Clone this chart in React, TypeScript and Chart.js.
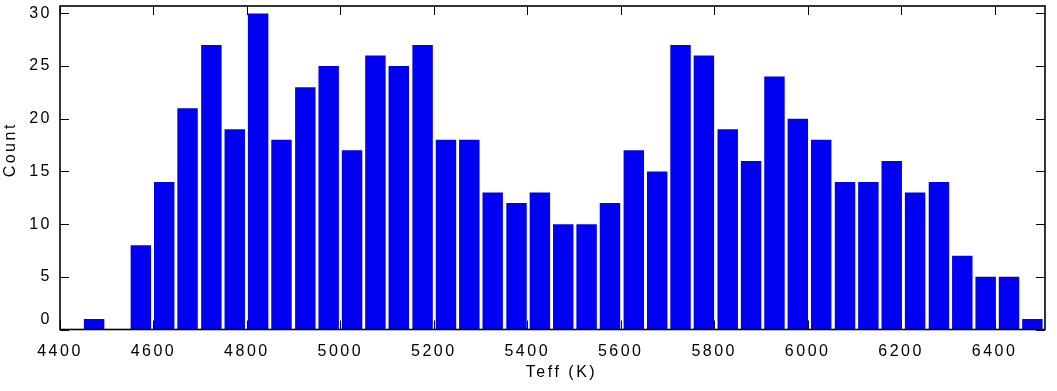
import React, { useEffect, useRef } from "react";
import { Chart, registerables } from "chart.js";

Chart.register(...registerables);

// Bin centres (Teff, K) and counts
const binCenters = [
  4473, 4523, 4573, 4623, 4673, 4724, 4774, 4824, 4874, 4925,
  4975, 5025, 5075, 5125, 5176, 5226, 5276, 5326, 5377, 5427,
  5477, 5527, 5577, 5628, 5678, 5728, 5778, 5829, 5879, 5929,
  5979, 6029, 6080, 6130, 6180, 6230, 6281, 6331, 6381, 6431,
  6481,
];
const counts = [
  1, 0, 8, 14, 21, 27, 19, 30, 18, 23,
  25, 17, 26, 25, 27, 18, 18, 13, 12, 13,
  10, 10, 12, 17, 15, 27, 26, 19, 16, 24,
  20, 18, 14, 14, 16, 13, 14, 7, 5, 5,
  1,
];
const xTickValues = [4400, 4600, 4800, 5000, 5200, 5400, 5600, 5800, 6000, 6200, 6400];
const yTickValues = [0, 5, 10, 15, 20, 25, 30];
const xMin = 4400;
const xMax = 6508;
const yMin = 0;
const yMax = 30.7;
const xTitle = "Teff (K)";
const yTitle = "Count";

const FONT = "'Liberation Sans', Arial, Helvetica, sans-serif";

const boxPlugin = {
  id: "matlabBox",
  beforeDraw(chart: any) {
    (chart.ctx as any).letterSpacing = "2.5px";
  },
  afterDatasetsDraw(chart: any) {
    const { ctx, chartArea } = chart;
    const { left, right, top, bottom } = chartArea;
    const xs = chart.scales.x;
    const ys = chart.scales.y;
    const tl = 9;
    ctx.save();
    ctx.strokeStyle = "#000";
    ctx.lineWidth = 1;
    ctx.beginPath();
    for (const v of xTickValues) {
      const px = Math.round(xs.getPixelForValue(v)) + 0.5;
      ctx.moveTo(px, bottom);
      ctx.lineTo(px, bottom - tl);
      ctx.moveTo(px, top);
      ctx.lineTo(px, top + tl);
    }
    for (const v of yTickValues) {
      const py = Math.round(ys.getPixelForValue(v)) + 0.5;
      ctx.moveTo(left, py);
      ctx.lineTo(left + tl, py);
      ctx.moveTo(right, py);
      ctx.lineTo(right - tl, py);
    }
    ctx.stroke();
    ctx.lineWidth = 1.6;
    ctx.strokeRect(left, top, right - left, bottom - top);

    // axis titles
    ctx.fillStyle = "#000";
    ctx.font = `16px ${FONT}`;
    (ctx as any).letterSpacing = "2.5px";
    ctx.textAlign = "center";
    ctx.textBaseline = "middle";
    ctx.fillText(xTitle, (left + right) / 2 + 9, 373);
    ctx.translate(11, (top + bottom) / 2 - 18);
    ctx.rotate(-Math.PI / 2);
    ctx.fillText(yTitle, 0, 0);
    ctx.restore();
  },
};

export default function App() {
  const canvasRef = useRef<HTMLCanvasElement | null>(null);

  useEffect(() => {
    if (!canvasRef.current) return;
    const chart = new Chart(canvasRef.current, {
      type: "bar",
      data: {
        datasets: [
          {
            label: yTitle,
            data: binCenters.map((x, i) => ({ x, y: counts[i] })),
            backgroundColor: "rgb(0,0,242)",
            borderWidth: 0,
            categoryPercentage: 1,
            barPercentage: 0.875,
          },
        ],
      },
      options: {
        animation: false,
        responsive: true,
        maintainAspectRatio: false,
        layout: { padding: { top: 6, right: 12, left: 0, bottom: 0 } },
        plugins: {
          legend: { display: false },
          tooltip: { enabled: false },
        },
        scales: {
          x: {
            type: "linear",
            min: xMin,
            max: xMax,
            offset: false,
            grid: { display: false, drawTicks: false },
            border: { display: false },
            afterBuildTicks: (scale: any) => {
              scale.ticks = xTickValues.map((v) => ({ value: v }));
            },
            afterFit: (scale: any) => {
              scale.height = 61.5;
              scale.paddingLeft = 0;
              scale.paddingRight = 0;
            },
            ticks: {
              color: "#000",
              padding: 12,
              maxRotation: 0,
              autoSkip: false,
              font: { family: FONT, size: 16 },
              callback: (v: any) => String(v),
            },
            title: { display: false },
          },
          y: {
            type: "linear",
            min: yMin,
            max: yMax,
            grid: { display: false, drawTicks: false },
            border: { display: false },
            afterBuildTicks: (scale: any) => {
              scale.ticks = yTickValues.map((v) => ({ value: v }));
            },
            afterFit: (scale: any) => {
              scale.width = 60;
              scale.paddingTop = 0;
              scale.paddingBottom = 0;
            },
            ticks: {
              color: "#000",
              padding: 8,
              autoSkip: false,
              font: { family: FONT, size: 16 },
              callback: (v: any) => (v === 0 ? ["0", ""] : String(v)),
            },
            title: { display: false },
          },
        },
      },
      plugins: [boxPlugin],
    });
    return () => chart.destroy();
  }, []);

  return (
    <div
      style={{
        position: "fixed",
        left: 0,
        top: 0,
        width: 1057,
        height: 391,
        background: "#fff",
      }}
    >
      <canvas ref={canvasRef} />
    </div>
  );
}
